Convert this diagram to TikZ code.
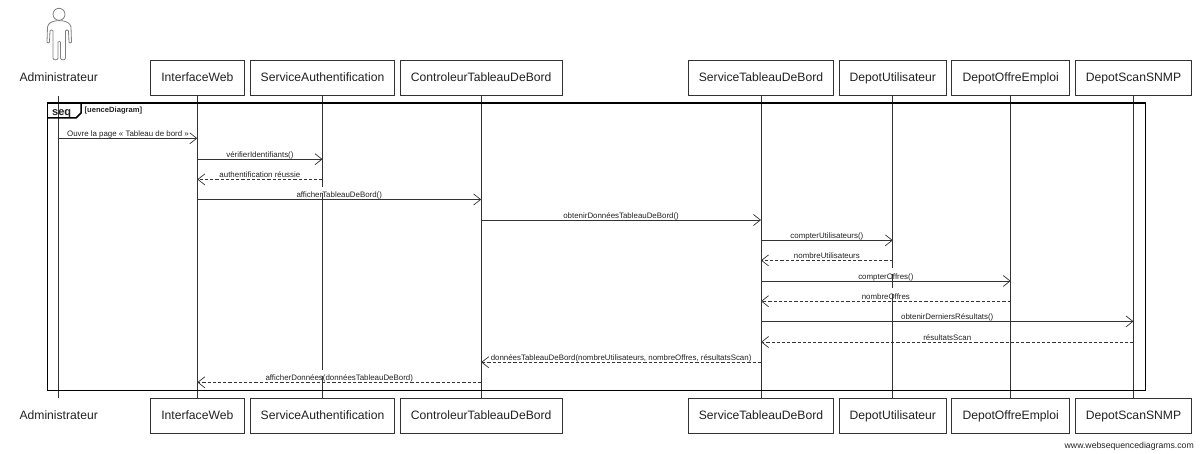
\documentclass[tikz,border=0pt]{standalone}
\usepackage{fontspec}
\setmainfont{Liberation Sans}
\usetikzlibrary{arrows.meta}
\definecolor{ink}{HTML}{222222}
\definecolor{lineink}{HTML}{333333}
\tikzset{
  x=1pt,y=-1pt,
  partbox/.style={draw=lineink,line width=0.8pt,fill=white,minimum height=35pt,inner sep=0pt,text=ink,text height=9pt,text depth=1pt,font=\fontsize{12.15}{14}\selectfont},
  actorbox/.style={partbox,draw=none,fill=none},
  life/.style={draw=lineink,line width=0.8pt},
  msgsolid/.style={draw=lineink,line width=0.8pt,-{Straight Barb[length=7pt,width=11pt,line width=0.7pt]}},
  msgdash/.style={msgsolid,dash pattern=on 3.2pt off 2pt},
  msglabel/.style={text=ink,inner sep=0pt,font=\fontsize{7.9}{9}\selectfont,anchor=base},
  framebox/.style={draw=black,line width=1.5pt},
  gapline/.style={draw=white,line width=2.4pt},
}
\newcommand{\partpair}[4]{%
  \node[#4,minimum width=#3 pt] (#1T) at (#2,77.8) {#1};
  \node[#4,minimum width=#3 pt] (#1B) at (#2,415.8) {#1};
}
\newcommand{\msgrow}[6]{%
  \coordinate (m#1a) at (#2T |- 0,#4);
  \coordinate (m#1b) at (#3T |- 0,#4);
  \draw[#6] (m#1a) -- (m#1b);
  \path (m#1a) -- (m#1b) node[pos=0.5,yshift=1.9pt,msglabel] {#5};
}
\begin{document}
\begin{tikzpicture}
\useasboundingbox (0,0) rectangle (1200,454);
% parts
\partpair{Administrateur}{58.7}{94}{actorbox}
\partpair{InterfaceWeb}{197.3}{94}{partbox}
\partpair{ServiceAuthentification}{322.5}{144.4}{partbox}
\partpair{ControleurTableauDeBord}{481.2}{161.7}{partbox}
\partpair{ServiceTableauDeBord}{761}{145.4}{partbox}
\partpair{DepotUtilisateur}{892.8}{107.4}{partbox}
\partpair{DepotOffreEmploi}{1010.7}{117.7}{partbox}
\partpair{DepotScanSNMP}{1133.5}{116}{partbox}
% lifelines
\foreach \p in {Administrateur,InterfaceWeb,ServiceAuthentification,ControleurTableauDeBord,ServiceTableauDeBord,DepotUtilisateur,DepotOffreEmploi,DepotScanSNMP}{
  \draw[life] (\p T.south) -- (\p B.north);
}
% gaps left by the labels
\draw[gapline] (ServiceAuthentificationT |- 0,187.5) -- (ServiceAuthentificationT |- 0,193);
\draw[gapline] (ServiceAuthentificationT |- 0,370) -- (ServiceAuthentificationT |- 0,376);
\draw[gapline] (DepotUtilisateurT |- 0,268.5) -- (DepotUtilisateurT |- 0,274.5);
\draw[gapline] (DepotUtilisateurT |- 0,288.5) -- (DepotUtilisateurT |- 0,294.5);
% frame
\coordinate (frameNW) at (47.4,102.8);
\coordinate (frameSE) at (1145.6,390.3);
\draw[framebox] (frameNW) rectangle (frameSE);
\draw[framebox] (47.4,118) -- (76,118) -- (81,113) -- (81,102.8);
\node[anchor=base west,inner sep=0pt,text=ink,font=\bfseries\fontsize{11}{13}\selectfont] (seqtag) at (52,116) {seq};
\node[anchor=base west,inner sep=0pt,text=ink,font=\bfseries\fontsize{7.6}{9}\selectfont] (seqname) at (84.5,112.3) {[uenceDiagram]};
% messages
\msgrow{1}{Administrateur}{InterfaceWeb}{138.3}{Ouvre la page « Tableau de bord »}{msgsolid}
\msgrow{2}{InterfaceWeb}{ServiceAuthentification}{159.2}{vérifierIdentifiants()}{msgsolid}
\msgrow{3}{ServiceAuthentification}{InterfaceWeb}{179.4}{authentification réussie}{msgdash}
\msgrow{4}{InterfaceWeb}{ControleurTableauDeBord}{199.5}{afficherTableauDeBord()}{msgsolid}
\msgrow{5}{ControleurTableauDeBord}{ServiceTableauDeBord}{220}{obtenirDonnéesTableauDeBord()}{msgsolid}
\msgrow{6}{ServiceTableauDeBord}{DepotUtilisateur}{240.3}{compterUtilisateurs()}{msgsolid}
\msgrow{7}{DepotUtilisateur}{ServiceTableauDeBord}{260.4}{nombreUtilisateurs}{msgdash}
\msgrow{8}{ServiceTableauDeBord}{DepotOffreEmploi}{281}{compterOffres()}{msgsolid}
\msgrow{9}{DepotOffreEmploi}{ServiceTableauDeBord}{301.2}{nombreOffres}{msgdash}
\msgrow{10}{ServiceTableauDeBord}{DepotScanSNMP}{321.4}{obtenirDerniersRésultats()}{msgsolid}
\msgrow{11}{DepotScanSNMP}{ServiceTableauDeBord}{342}{résultatsScan}{msgdash}
\msgrow{12}{ServiceTableauDeBord}{ControleurTableauDeBord}{362.2}{donnéesTableauDeBord(nombreUtilisateurs, nombreOffres, résultatsScan)}{msgdash}
\msgrow{13}{ControleurTableauDeBord}{InterfaceWeb}{382.3}{afficherDonnées(donnéesTableauDeBord)}{msgdash}
% actor figure
\draw[draw=gray,line width=0.8pt] (59,14.3) circle[radius=6];
\draw[draw=gray,line width=0.8pt,line join=round,fill=white]
  (55,21) .. controls (51,22) and (48.5,23) .. (47.5,27) -- (47,42) .. controls (47,43.5) and (49.5,43.5) .. (49.5,42) -- (50,31) .. controls (50.5,29.5) and (52.5,29.5) .. (53,31)
  -- (53,58) .. controls (53,60.5) and (58,60.5) .. (58,58) -- (58,42) .. controls (58,41.5) and (60.5,41.5) .. (60.5,42)
  -- (60.5,58) .. controls (60.5,60.5) and (65.5,60.5) .. (65.5,58) -- (65.5,31) .. controls (66,29.5) and (68,29.5) .. (68.5,31)
  -- (69,42) .. controls (69,43.5) and (71.5,43.5) .. (71.5,42) -- (71,27) .. controls (70,23) and (67,22) .. (63.5,21) .. controls (61.5,20.5) and (57,20.5) .. (55,21) -- cycle;
% credit
\node[anchor=base east,inner sep=0pt,text=ink,font=\fontsize{8.7}{10}\selectfont] (credit) at (1194,448) {www.websequencediagrams.com};
\end{tikzpicture}
\end{document}
